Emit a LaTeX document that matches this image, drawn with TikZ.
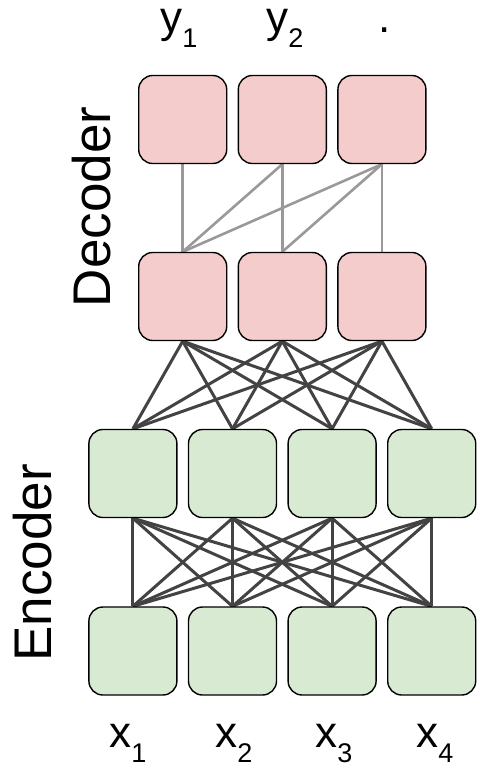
\documentclass[tikz,border=0pt]{standalone}
\usepackage{fontspec}
\setmainfont{Liberation Sans}
\definecolor{decfill}{HTML}{F4CCCC}
\definecolor{encfill}{HTML}{D9EAD3}
\definecolor{darkline}{HTML}{434343}
\definecolor{lightline}{HTML}{999999}
\pgfdeclarelayer{background}
\pgfsetlayers{background,main}
\tikzset{
  cell/.style={draw=black, line width=1.4pt, rounded corners=14pt, minimum width=88pt, minimum height=88pt, inner sep=0pt},
  deccell/.style={cell, fill=decfill},
  enccell/.style={cell, fill=encfill},
  darkconn/.style={draw=darkline, line width=3pt},
  lightconn/.style={draw=lightline, line width=2.6pt},
  sidelabel/.style={rotate=90, inner sep=0pt, font=\fontsize{53}{53}\selectfont},
  toklabel/.style={anchor=base, inner sep=0pt, font=\fontsize{44}{44}\selectfont}
}
\newcommand{\tok}[2]{#1\raisebox{-15pt}{\fontsize{27}{27}\selectfont #2}}
\begin{document}
\begin{tikzpicture}[x=1pt,y=-1pt]
\useasboundingbox (0,0) rectangle (479,768);
% nodes
\node[deccell] (t1) at (182.7,119.5) {};
\node[deccell] (t2) at (282.3,119.5) {};
\node[deccell] (t3) at (381.9,119.5) {};
\node[deccell] (h1) at (182.7,296.5) {};
\node[deccell] (h2) at (282.3,296.5) {};
\node[deccell] (h3) at (381.9,296.5) {};
\node[enccell] (e1) at (132.9,473.5) {};
\node[enccell] (e2) at (232.5,473.5) {};
\node[enccell] (e3) at (332.1,473.5) {};
\node[enccell] (e4) at (431.7,473.5) {};
\node[enccell] (i1) at (132.9,651) {};
\node[enccell] (i2) at (232.5,651) {};
\node[enccell] (i3) at (332.1,651) {};
\node[enccell] (i4) at (431.7,651) {};
% connectors
\begin{pgfonlayer}{background}
\foreach \a/\b in {t1/h1,t2/h1,t2/h2,t3/h1,t3/h2,t3/h3}
  \draw[lightconn] (\a.south) -- (\b.north);
\foreach \a in {h1,h2,h3}
  \foreach \b in {e1,e2,e3,e4}
    \draw[darkconn] (\a.south) -- (\b.north);
\foreach \a in {e1,e2,e3,e4}
  \foreach \b in {i1,i2,i3,i4}
    \draw[darkconn] (\a.south) -- (\b.north);
\end{pgfonlayer}
% labels
\node[sidelabel] (dec) at (92,207) {Decoder};
\node[sidelabel] (enc) at (32.5,563) {Encoder};
\node[toklabel] (y1) at (179,33) {\tok{y}{1}};
\node[toklabel] (y2) at (285,33) {\tok{y}{2}};
\node[toklabel] (yd) at (385,33) {.};
\node[toklabel] (x1) at (128,747) {\tok{x}{1}};
\node[toklabel] (x2) at (234,747) {\tok{x}{2}};
\node[toklabel] (x3) at (334,747) {\tok{x}{3}};
\node[toklabel] (x4) at (435,747) {\tok{x}{4}};
\end{tikzpicture}
\end{document}
